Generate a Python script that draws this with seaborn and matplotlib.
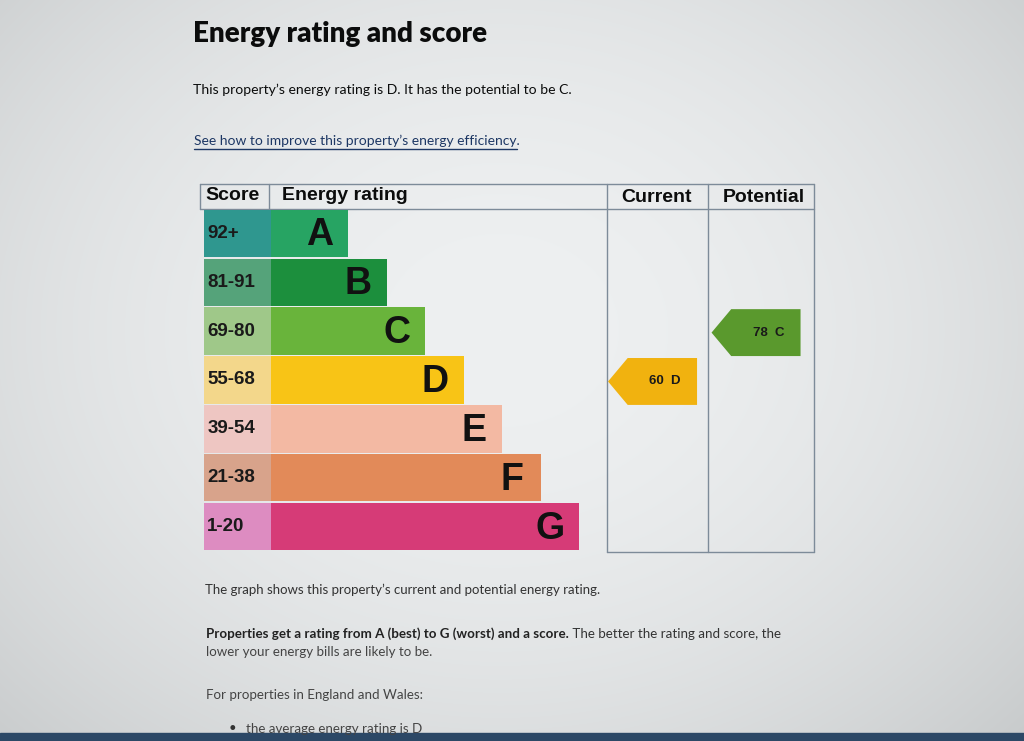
import numpy as np
import pandas as pd
import matplotlib
matplotlib.use("Agg")
import matplotlib.pyplot as plt
from matplotlib.patches import Polygon
import seaborn as sns

# energy bands, top (best) to bottom (worst)
bands = ["A", "B", "C", "D", "E", "F", "G"]
score_ranges = ["92+", "81-91", "69-80", "55-68", "39-54", "21-38", "1-20"]
band_length = [2, 3, 4, 5, 6, 7, 8]
band_colors = ["#27a463", "#1c8f3d", "#69b43b", "#f8c416", "#f3b9a3", "#e28a59", "#d63b77"]
score_colors = ["#2f978f", "#55a37a", "#9fc889", "#f3d78b", "#eec6c2", "#d8a38b", "#dd8cc1"]

# current / potential rating
columns = ["Current", "Potential"]
ratings = [60, 78]
rating_bands = ["D", "C"]
rating_colors = ["#f1b20f", "#5a992d"]

W, H = 1024, 741
sns.set_theme(style="white")
plt.rcParams["font.family"] = ["Liberation Sans", "DejaVu Sans"]

fig = plt.figure(figsize=(W / 100, H / 100), dpi=100)


def px_axes(x0, y0, x1, y1):
    a = fig.add_axes([x0 / W, 1 - y1 / H, (x1 - x0) / W, (y1 - y0) / H])
    a.patch.set_alpha(0)
    return a


# page layer (photo of a screen: grey, a bit darker towards the edges)
page = px_axes(0, 0, W, H)
page.set_xlim(0, W)
page.set_ylim(H, 0)
page.axis("off")
yy, xx = np.mgrid[0:H, 0:W]
t = np.clip(((xx - 500) / 760) ** 2 + ((yy - 330) / 620) ** 2, 0, 1)
light = np.array([238, 240, 241]) / 255
dark = np.array([196, 199, 200]) / 255
page.imshow(light * (1 - t[..., None]) + dark * t[..., None], extent=(0, W, H, 0), aspect="auto", zorder=0)
page.axhspan(733, H, color="#2c4866", zorder=1)

txt_font = ["Lato", "DejaVu Sans"]
page.text(193, 34, "Energy rating and score", fontsize=20, fontweight="heavy", family=txt_font,
          color="#0b0c0c", va="center")
page.text(193, 90, "This property\u2019s energy rating is D. It has the potential to be C.", fontsize=10.1,
          family=txt_font, color="#0b0c0c", va="center")
page.text(194, 141, "See how to improve this property\u2019s energy efficiency.", fontsize=10,
          family=txt_font, color="#1d3764", va="center")
page.plot([194, 517], [149, 149], color="#1d3764", lw=1)

page.text(205, 590, "The graph shows this property\u2019s current and potential energy rating.", fontsize=9.5,
          family=txt_font, color="#333333", va="center")
bold = page.text(206, 640, "Properties get a rating from A (best) to G (worst) and a score.", fontsize=9.6,
                 family=txt_font, fontweight="bold", color="#222222", va="bottom")
page.annotate(" The better the rating and score, the", xy=(1, 0), xycoords=bold, fontsize=9.6,
              family=txt_font, color="#333333", va="bottom")
page.text(206, 652, "lower your energy bills are likely to be.", fontsize=9.6, family=txt_font,
          color="#444444", va="center")
page.text(206, 695, "For properties in England and Wales:", fontsize=9.6, family=txt_font,
          color="#444444", va="center")
page.text(229, 728, "\u2022", fontsize=9.5, family=txt_font, color="#333333", va="center")
page.text(246, 729, "the average energy rating is D", fontsize=9.6, family=txt_font,
          color="#444444", va="center")

# table frame and header
line_kw = dict(color="#7d8b99", lw=1, zorder=3)
page.plot([200, 814], [184, 184], **line_kw)
page.plot([200, 814], [209, 209], **line_kw)
page.plot([200, 200], [184, 209], **line_kw)
page.plot([269, 269], [184, 209], **line_kw)
for x in [607, 708, 814]:
    page.plot([x, x], [184, 552], **line_kw)
page.plot([607, 814], [552, 552], **line_kw)

head_kw = dict(fontsize=14, fontweight="bold", color="#0b0c0c", va="center")
page.text(205, 196, "Score", **head_kw)
page.text(282, 196, "Energy rating", **head_kw)
page.text(657, 197, "Current", ha="center", **head_kw)
page.text(764, 197, "Potential", ha="center", **head_kw)

df = pd.DataFrame({"band": bands, "score": score_ranges, "length": band_length})
row_top, row_bot = 209, 551

# score column
sc_ax = px_axes(204, row_top, 271, row_bot)
sns.barplot(data=df.assign(full=1), x="full", y="score", hue="score", palette=score_colors,
            saturation=1, width=0.97, linewidth=0, legend=False, ax=sc_ax)
sc_ax.set_xlim(0, 1)
for i, s in enumerate(score_ranges):
    sc_ax.text(0.05, i, s, fontsize=13.5, fontweight="bold", color="#1a1a1a", va="center")

# rating bars
bar_ax = px_axes(271, row_top, 607, row_bot)
sns.barplot(data=df, x="length", y="band", hue="band", palette=band_colors,
            saturation=1, width=0.97, linewidth=0, legend=False, ax=bar_ax)
bar_ax.set_xlim(0, 336 / 38.5)
for i, (b, n) in enumerate(zip(bands, band_length)):
    bar_ax.text(n - 0.74, i + 0.04, b, fontsize=27, fontweight="bold", color="#111111",
                ha="center", va="center")

# current / potential arrows
arr_ax = px_axes(607, row_top, 814, row_bot)
arr_ax.set_xlim(0, 2)
arr_ax.set_ylim(len(bands) - 0.5, -0.5)
for c, (val, b, col) in enumerate(zip(ratings, rating_bands, rating_colors)):
    y = bands.index(b) + 0.03
    h = 0.48
    arr_ax.add_patch(Polygon([(c + 0.01, y), (c + 0.2, y - h), (c + 0.87, y - h),
                              (c + 0.87, y + h), (c + 0.2, y + h)], closed=True,
                             facecolor=col, edgecolor="none"))
    arr_ax.text(c + 0.56, y, f"{val}  {b}", fontsize=9.5, fontweight="bold", color="#1a1a1a",
                ha="center", va="center")

for a in [sc_ax, bar_ax, arr_ax]:
    a.axis("off")

fig.savefig("out.png", dpi=100)
